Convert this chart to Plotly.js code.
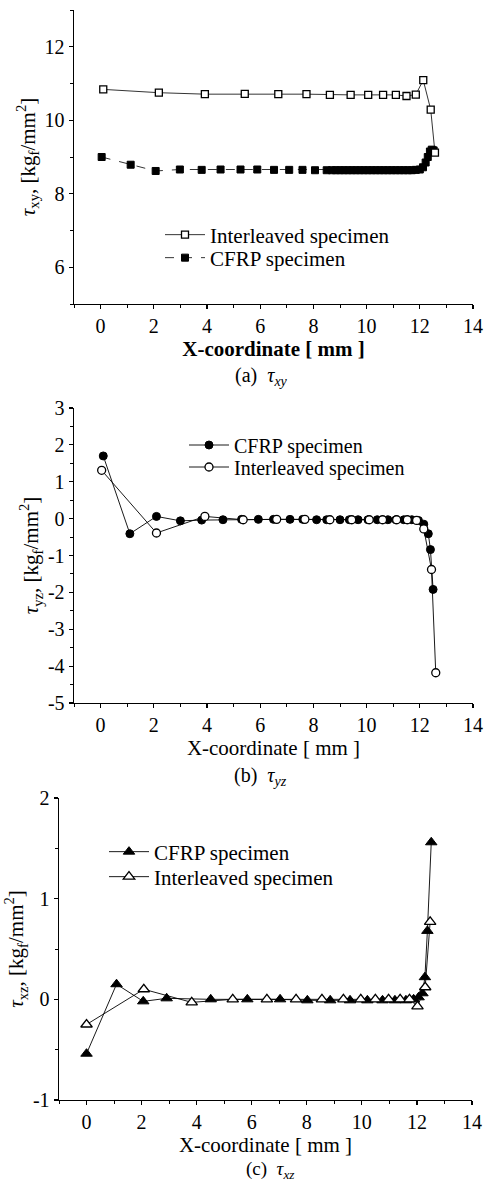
<!DOCTYPE html>
<html><head><meta charset="utf-8">
<script src="https://cdn.plot.ly/plotly-3.0.1.min.js"></script>
<style>html,body{margin:0;padding:0;background:#fff}#chart{width:484px;height:1181px}</style>
</head><body><div id="chart"></div>
<script>
// ---------- Panel (a): tau_xy ----------
const aInterX = [0.1, 2.19, 3.92, 5.42, 6.68, 7.74, 8.62, 9.4, 10.06, 10.62, 11.1, 11.5, 11.85, 12.13, 12.41, 12.57];
const aInterY = [10.84, 10.75, 10.71, 10.72, 10.71, 10.71, 10.69, 10.69, 10.69, 10.69, 10.69, 10.66, 10.70, 11.09, 10.29, 9.12];
const aCfrpX = [0.04, 1.13, 2.07, 2.98, 3.8, 4.51, 5.26, 5.89, 6.52, 7.09, 7.59, 8.06, 8.5,
  8.7, 8.85, 9.0, 9.15, 9.3, 9.45, 9.6, 9.75, 9.9, 10.05, 10.2, 10.35, 10.5, 10.65, 10.8, 10.95,
  11.1, 11.25, 11.4, 11.55, 11.7, 11.85, 12.0, 12.12, 12.22, 12.3, 12.38, 12.45, 12.52];
const aCfrpY = [9.0, 8.79, 8.62, 8.66, 8.65, 8.66, 8.66, 8.66, 8.65, 8.65, 8.65, 8.64, 8.64,
  8.64, 8.64, 8.64, 8.64, 8.64, 8.64, 8.64, 8.64, 8.64, 8.64, 8.64, 8.64, 8.64, 8.64, 8.64, 8.64,
  8.64, 8.64, 8.64, 8.64, 8.64, 8.65, 8.66, 8.72, 8.85, 9.0, 9.15, 9.2, 9.18];

// ---------- Panel (b): tau_yz ----------
const bCfrpX = [0.1, 1.1, 2.1, 3.0, 3.8, 4.6, 5.3, 5.93, 6.5, 7.12, 7.6, 8.12, 8.5, 9.0, 9.35, 9.68, 10.05, 10.4, 10.8, 11.1, 11.4, 11.7, 11.95, 12.15, 12.32, 12.4, 12.5];
const bCfrpY = [1.7, -0.41, 0.06, -0.06, -0.04, -0.03, -0.02, -0.02, -0.02, -0.02, -0.02, -0.03, -0.03, -0.03, -0.03, -0.03, -0.03, -0.03, -0.03, -0.03, -0.03, -0.03, -0.05, -0.15, -0.41, -0.84, -1.92];
const bInterX = [0.04, 2.1, 3.92, 5.36, 6.62, 7.68, 8.62, 9.44, 10.1, 10.6, 11.13, 11.53, 11.88, 12.15, 12.44, 12.6];
const bInterY = [1.31, -0.39, 0.06, -0.03, -0.02, -0.02, -0.03, -0.03, -0.03, -0.03, -0.03, -0.03, -0.05, -0.28, -1.38, -4.18];

// ---------- Panel (c): tau_xz ----------
const cCfrpX = [0, 1.09, 2.06, 2.91, 4.51, 5.84, 7.03, 8.02, 8.85, 9.57, 10.2, 10.75, 11.2, 11.6, 11.88, 12.06, 12.2, 12.29, 12.38, 12.52];
const cCfrpY = [-0.54, 0.15, -0.02, 0.01, 0, 0, 0, -0.01, -0.01, -0.01, -0.01, -0.01, -0.01, -0.01, 0.0, 0.02, 0.06, 0.22, 0.68, 1.56];
const cInterX = [0, 2.08, 3.82, 5.31, 6.55, 7.61, 8.55, 9.33, 9.96, 10.49, 10.97, 11.39, 11.73, 12.02, 12.3, 12.48];
const cInterY = [-0.25, 0.1, -0.03, 0, 0, 0, 0, 0, 0, 0, 0, 0, 0, -0.07, 0.12, 0.77];

// ---------- tick labels ----------
const xTickVals = [0, 2, 4, 6, 8, 10, 12, 14];
const xTickText = ['0', '2', '4', '6', '8', '10', '12', '14'];
const aYTickVals = [6, 8, 10, 12];
const aYTickText = ['6', '8', '10', '12'];
const bYTickVals = [-5, -4, -3, -2, -1, 0, 1, 2, 3];
const bYTickText = ['-5', '-4', '-3', '-2', '-1', '0', '1', '2', '3'];
const cYTickVals = [-1, 0, 1, 2];
const cYTickText = ['-1', '0', '1', '2'];

const nameInter = 'Interleaved specimen';
const nameCfrp = 'CFRP specimen';
const xTitle = 'X-coordinate [ mm ]';

const FONT = 'Liberation Serif';
const W = 484, H = 1181;
const px = v => v / W;
const py = v => 1 - v / H;

function xAxis(domain, anchor, range, bold) {
  return {
    domain: domain, anchor: anchor, range: range,
    tickmode: 'array', tickvals: xTickVals, ticktext: xTickText,
    ticks: 'outside', ticklen: 4, tickwidth: 1.2, tickcolor: '#000',
    minor: {dtick: 1, ticks: 'outside', ticklen: 3, tickwidth: 1, tickcolor: '#000'},
    showline: true, linecolor: '#000', linewidth: 1.4, mirror: false,
    showgrid: false, zeroline: false,
    tickfont: {family: FONT, size: 20, color: '#000'},
    title: {text: bold ? '<b>' + xTitle + '</b>' : xTitle, font: {family: FONT, size: 21, color: '#000'}, standoff: 0},
    automargin: false
  };
}
function yAxis(domain, anchor, range, vals, text, minorStep, title) {
  return {
    domain: domain, anchor: anchor, range: range,
    tickmode: 'array', tickvals: vals, ticktext: text,
    ticks: 'outside', ticklen: 4, tickwidth: 1.2, tickcolor: '#000',
    minor: {dtick: minorStep, ticks: 'outside', ticklen: 3, tickwidth: 1, tickcolor: '#000'},
    showline: true, linecolor: '#000', linewidth: 1.4, mirror: false,
    showgrid: false, zeroline: false,
    tickfont: {family: FONT, size: 20, color: '#000'},
    title: {text: title, font: {family: FONT, size: 21, color: '#000'}, standoff: 3},
    automargin: false
  };
}

const openM = (sym, size) => ({symbol: sym, size: size, color: '#fff', line: {color: '#000', width: 1.3}});
const fillM = (sym, size) => ({symbol: sym, size: size, color: '#000', line: {color: '#000', width: 1}});

const traces = [
  {x: aCfrpX, y: aCfrpY, name: nameCfrp, xaxis: 'x', yaxis: 'y', legend: 'legend2', mode: 'lines+markers',
   line: {color: '#000', width: 0.8, dash: 'dash'}, marker: fillM('square', 7)},
  {x: aInterX, y: aInterY, name: nameInter, xaxis: 'x', yaxis: 'y', legend: 'legend', mode: 'lines+markers',
   line: {color: '#000', width: 0.8}, marker: openM('square', 7)},
  {x: bCfrpX, y: bCfrpY, name: nameCfrp, xaxis: 'x2', yaxis: 'y2', legend: 'legend3', mode: 'lines+markers',
   line: {color: '#000', width: 0.9}, marker: fillM('circle', 8)},
  {x: bInterX, y: bInterY, name: nameInter, xaxis: 'x2', yaxis: 'y2', legend: 'legend4', mode: 'lines+markers',
   line: {color: '#000', width: 0.9}, marker: openM('circle', 8)},
  {x: cCfrpX, y: cCfrpY, name: nameCfrp, xaxis: 'x3', yaxis: 'y3', legend: 'legend5', mode: 'lines+markers',
   line: {color: '#000', width: 0.9}, marker: fillM('triangle-up', 10)},
  {x: cInterX, y: cInterY, name: nameInter, xaxis: 'x3', yaxis: 'y3', legend: 'legend6', mode: 'lines+markers',
   line: {color: '#000', width: 0.9}, marker: openM('triangle-up', 10)}
];

const legendBase = {
  font: {family: FONT, size: 21, color: '#000'},
  bgcolor: 'rgba(0,0,0,0)', borderwidth: 0,
  xanchor: 'left', yanchor: 'middle', tracegroupgap: 0, itemwidth: 40
};
const leg = (xL, yC, fs) => Object.assign({}, legendBase, {x: px(xL - 6), y: py(yC)},
  fs ? {font: {family: FONT, size: fs, color: '#000'}} : {});

const layout = {
  width: W, height: H,
  margin: {l: 0, r: 0, t: 0, b: 0},
  paper_bgcolor: '#fff', plot_bgcolor: '#fff',
  showlegend: true,
  font: {family: FONT, color: '#000'},
  xaxis: xAxis([px(74), px(473)], 'y', [-1, 14], true),
  yaxis: yAxis([py(304), py(10)], 'x', [5, 13], aYTickVals, aYTickText, 1,
    '<i>τ</i><sub>xy</sub>, [kg<sub>f</sub>/mm<sup>2</sup>]'),
  xaxis2: xAxis([px(74), px(473)], 'y2', [-1, 14], false),
  yaxis2: yAxis([py(703), py(408)], 'x2', [-5, 3], bYTickVals, bYTickText, 0.5,
    '<i>τ</i><sub>yz</sub>, [kg<sub>f</sub>/mm<sup>2</sup>]'),
  xaxis3: xAxis([px(59), px(472)], 'y3', [-1, 14], false),
  yaxis3: yAxis([py(1100), py(798)], 'x3', [-1, 2], cYTickVals, cYTickText, 0.5,
    '<i>τ</i><sub>xz</sub>, [kg<sub>f</sub>/mm<sup>2</sup>]'),
  legend: leg(166, 235),
  legend2: leg(166, 258),
  legend3: leg(190, 445, 20),
  legend4: leg(190, 467, 20),
  legend5: leg(110, 852),
  legend6: leg(110, 877),
  annotations: [
    {text: '(a)  <i>τ<sub>xy</sub></i>', xref: 'paper', yref: 'paper', x: px(261), y: py(376),
     xanchor: 'center', yanchor: 'middle', showarrow: false, font: {family: FONT, size: 20, color: '#000'}},
    {text: '(b)  <i>τ<sub>yz</sub></i>', xref: 'paper', yref: 'paper', x: px(260), y: py(776),
     xanchor: 'center', yanchor: 'middle', showarrow: false, font: {family: FONT, size: 20, color: '#000'}},
    {text: '(c)  <i>τ<sub>xz</sub></i>', xref: 'paper', yref: 'paper', x: px(270), y: py(1170),
     xanchor: 'center', yanchor: 'middle', showarrow: false, font: {family: FONT, size: 19, color: '#000'}}
  ]
};

Plotly.newPlot('chart', traces, layout, {staticPlot: true, displayModeBar: false});
</script></body></html>
